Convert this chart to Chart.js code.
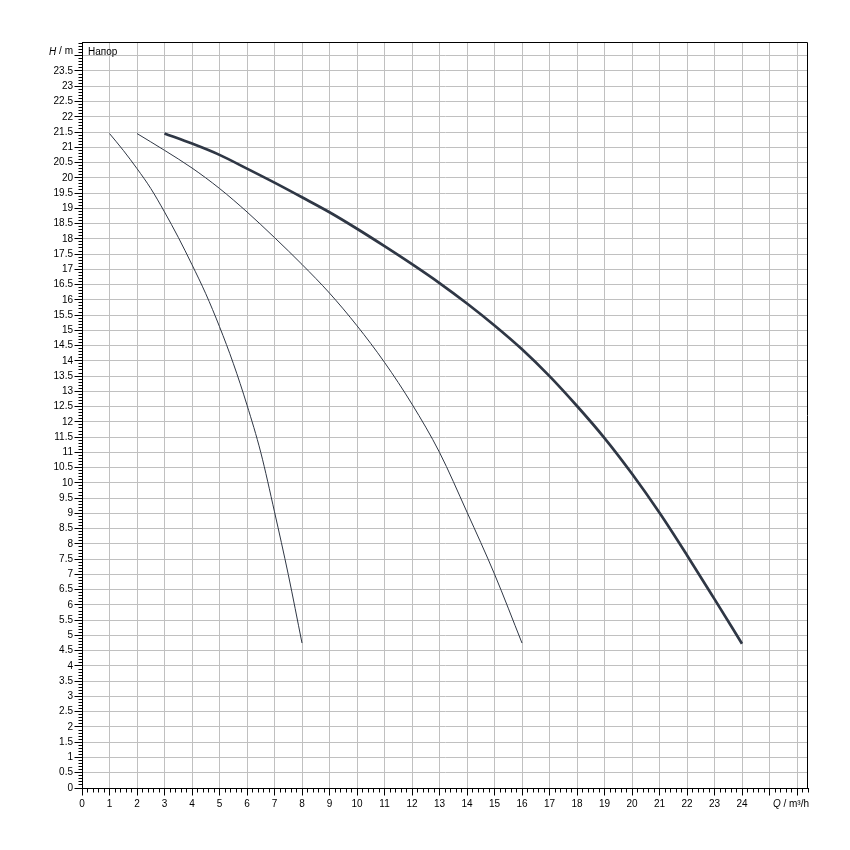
<!DOCTYPE html>
<html>
<head>
<meta charset="utf-8">
<script src="https://cdn.jsdelivr.net/npm/chart.js@4.4.1/dist/chart.umd.min.js"></script>
<style>
html,body{margin:0;padding:0;background:#fff;}
#wrap{width:850px;height:850px;position:relative;}
</style>
</head>
<body>
<div id="wrap"><canvas id="c" width="850" height="850"></canvas></div>
<script>
// ---- data ----
const flowOne  = [1, 1.5, 2, 2.5, 3, 3.5, 4, 4.5, 5, 5.5, 6, 6.5, 7, 7.5, 8];
const headOne  = [21.45, 20.9, 20.3, 19.65, 18.88, 18.05, 17.15, 16.2, 15.12, 13.92, 12.55, 11.0, 9.05, 7.0, 4.75];

const flowTwo  = [2, 3, 4, 5, 6, 7, 8, 9, 10, 11, 12, 13, 14, 15, 16];
const headTwo  = [21.45, 20.9, 20.32, 19.65, 18.88, 18.04, 17.16, 16.22, 15.15, 13.95, 12.58, 11.0, 9.04, 7.01, 4.75];

const flowThree = [3, 4, 5, 6, 7, 8, 9, 10, 11, 12, 13, 14, 15, 16, 17, 18, 19, 20, 21, 22, 23, 24];
const headThree = [21.45, 21.12, 20.75, 20.3, 19.84, 19.36, 18.87, 18.33, 17.76, 17.17, 16.55, 15.88, 15.16, 14.38, 13.5, 12.52, 11.47, 10.3, 9.02, 7.63, 6.19, 4.73];

const xTickLabels = [0,1,2,3,4,5,6,7,8,9,10,11,12,13,14,15,16,17,18,19,20,21,22,23,24];
const yTickLabels = [0,0.5,1,1.5,2,2.5,3,3.5,4,4.5,5,5.5,6,6.5,7,7.5,8,8.5,9,9.5,10,10.5,11,11.5,12,12.5,13,13.5,14,14.5,15,15.5,16,16.5,17,17.5,18,18.5,19,19.5,20,20.5,21,21.5,22,22.5,23,23.5];

const xAxisTitle = ['Q', ' / m³/h'];
const yAxisTitle = ['H', ' / m'];
const plotLabel = 'Напор';

// ---- helpers ----
const toPoints = (xs, ys) => xs.map((v, i) => ({x: v, y: ys[i]}));
const FONT = 'Liberation Sans, Arial, sans-serif';
const align = p => Math.round(p - 0.5) + 0.5;

const axesPlugin = {
  id: 'axesDecor',
  afterDraw(chart) {
    const {ctx, chartArea: a, scales: {x, y}} = chart;
    const left = align(a.left), right = align(a.right - 1), top = align(a.top), bottom = align(a.bottom);
    ctx.save();
    ctx.strokeStyle = '#000';
    ctx.lineWidth = 1;
    // frame top/right
    ctx.beginPath();
    ctx.moveTo(left, top); ctx.lineTo(right, top); ctx.lineTo(right, bottom);
    ctx.stroke();
    // x tick marks
    ctx.beginPath();
    for (let i = 0; ; i++) {
      const v = i * 0.2;
      if (v > x.max + 1e-9) break;
      const px = align(x.getPixelForValue(v));
      const len = (i % 5 === 0) ? 7 : 4;
      ctx.moveTo(px, bottom); ctx.lineTo(px, bottom + len);
    }
    // y tick marks
    for (let i = 0; ; i++) {
      const v = i * 0.1;
      if (v > y.max + 1e-9) break;
      const py = align(y.getPixelForValue(v));
      const len = (i % 5 === 0) ? 8 : 4;
      ctx.moveTo(left - len, py); ctx.lineTo(left, py);
    }
    ctx.stroke();

    // labels
    ctx.fillStyle = '#000';
    ctx.font = '10px ' + FONT;
    ctx.textBaseline = 'middle';
    ctx.textAlign = 'center';
    xTickLabels.forEach(v => ctx.fillText(String(v), x.getPixelForValue(v), bottom + 16));
    ctx.textAlign = 'right';
    yTickLabels.forEach(v => ctx.fillText(String(v), a.left - 9, y.getPixelForValue(v)));

    // axis titles
    const drawTitle = (parts, rightX, cy) => {
      ctx.textAlign = 'left';
      ctx.font = '10px ' + FONT;
      const w2 = ctx.measureText(parts[1]).width;
      ctx.font = 'italic 10px ' + FONT;
      const w1 = ctx.measureText(parts[0]).width;
      const sx = rightX - w1 - w2;
      ctx.fillText(parts[0], sx, cy);
      ctx.font = '10px ' + FONT;
      ctx.fillText(parts[1], sx + w1, cy);
    };
    drawTitle(yAxisTitle, a.left - 9, y.getPixelForValue(24) - 4);
    drawTitle(xAxisTitle, a.right + 1, bottom + 16);

    ctx.font = '10px ' + FONT;
    ctx.textAlign = 'left';
    ctx.fillText(plotLabel, a.left + 6, a.top + 10);
    ctx.restore();
  }
};

const lineColor = '#2f3745';

new Chart(document.getElementById('c'), {
  type: 'scatter',
  data: {
    datasets: [
      {data: toPoints(flowOne, headOne), showLine: true, borderColor: lineColor, borderWidth: 1, pointRadius: 0, cubicInterpolationMode: 'monotone'},
      {data: toPoints(flowTwo, headTwo), showLine: true, borderColor: lineColor, borderWidth: 1, pointRadius: 0, cubicInterpolationMode: 'monotone'},
      {data: toPoints(flowThree, headThree), showLine: true, borderColor: lineColor, borderWidth: 2.7, pointRadius: 0, cubicInterpolationMode: 'monotone'}
    ]
  },
  options: {
    responsive: false,
    animation: false,
    devicePixelRatio: 1,
    layout: {padding: {left: 82, top: 42, right: 42, bottom: 62}},
    plugins: {legend: {display: false}, tooltip: {enabled: false}},
    scales: {
      x: {
        type: 'linear', min: 0, max: 26.4,
        ticks: {display: false, stepSize: 1, includeBounds: false},
        grid: {color: '#c0c0c0', lineWidth: 1, drawTicks: false},
        border: {color: '#000', width: 1}
      },
      y: {
        type: 'linear', min: 0, max: 24.45,
        ticks: {display: false, stepSize: 0.5, includeBounds: false},
        grid: {color: '#c0c0c0', lineWidth: 1, drawTicks: false},
        border: {color: '#000', width: 1}
      }
    }
  },
  plugins: [axesPlugin]
});
</script>
</body>
</html>
